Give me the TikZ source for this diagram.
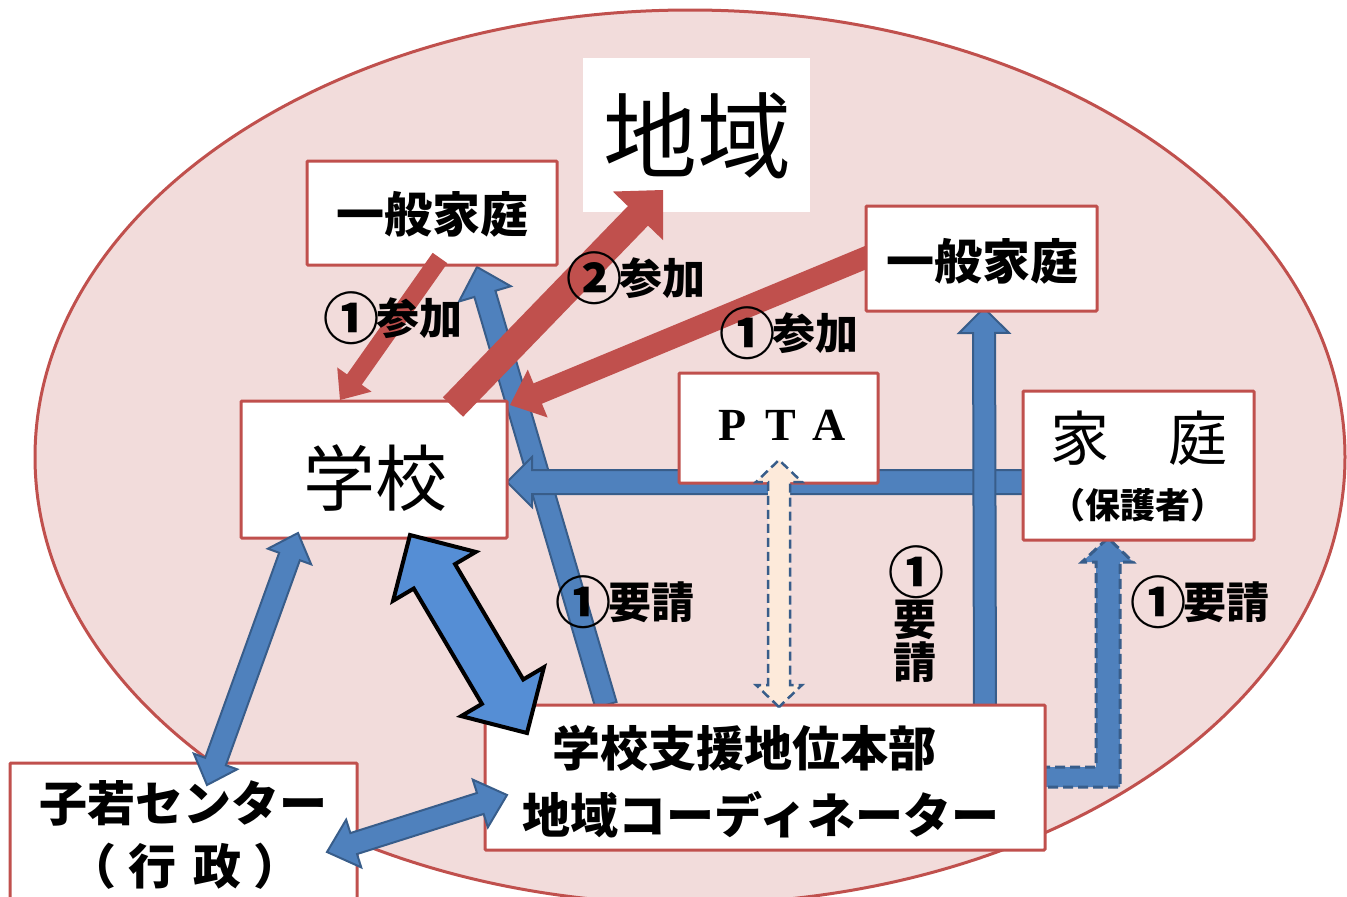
\documentclass[tikz,border=0pt]{standalone}
\usepackage{fontspec}
\newfontfamily\jp{Noto Sans CJK JP}
\newfontfamily\ptafont{Liberation Serif}
\usetikzlibrary{calc}
\definecolor{ellfill}{HTML}{F2DCDB}
\definecolor{redc}{HTML}{C0504D}
\definecolor{bluef}{HTML}{4F81BD}
\definecolor{blued}{HTML}{385D8A}
\definecolor{bigblue}{HTML}{558ED5}
\definecolor{peach}{HTML}{FDEADA}
\newcommand{\maru}[1]{\raisebox{-5pt}{\fontsize{56}{56}\selectfont #1}\kern-3pt}
\newcommand{\sarrow}[6]{%
  \path ($(#3)!#6!(#2)$) coordinate (hb);
  \filldraw[#1] ($(#2)!#4!90:(#3)$) -- ($(hb)!#4!90:(#3)$) -- ($(hb)!#5!90:(#3)$) -- (#3) -- ($(hb)!#5!-90:(#3)$) -- ($(hb)!#4!-90:(#3)$) -- ($(#2)!#4!-90:(#3)$) -- cycle;}
\newcommand{\darrow}[6]{%
  \path ($(#3)!#6!(#2)$) coordinate (hb) ($(#2)!#6!(#3)$) coordinate (ha);
  \filldraw[#1] (#2) -- ($(ha)!#5!90:(#3)$) -- ($(ha)!#4!90:(#3)$) -- ($(hb)!#4!90:(#3)$) -- ($(hb)!#5!90:(#3)$) -- (#3) -- ($(hb)!#5!-90:(#3)$) -- ($(hb)!#4!-90:(#3)$) -- ($(ha)!#4!-90:(#3)$) -- ($(ha)!#5!-90:(#3)$) -- cycle;}
\begin{document}
\begin{tikzpicture}[x=1pt,y=-1pt,
  box/.style={draw=redc, line width=3pt, fill=white, inner sep=0pt, rounded corners=1pt},
  bst/.style={fill=bluef, draw=blued, line width=2pt, line join=miter},
  rst/.style={fill=redc, draw=none},
  bigst/.style={fill=bigblue, draw=black, line width=4pt, line join=miter},
  dashst/.style={fill=peach, draw=blued, line width=2.5pt, dash pattern=on 9pt off 5pt},
  ldashst/.style={fill=bluef, draw=blued, line width=3pt, dash pattern=on 10pt off 5pt},
  txt/.style={inner sep=0pt, font=\jp\bfseries\fontsize{48}{52}\selectfont},
  lbl/.style={inner sep=0pt, font=\jp\bfseries\fontsize{43}{46}\selectfont}]
\useasboundingbox (0,0) rectangle (1347,897);
\fill[white] (0,0) rectangle (1347,897);
% background ellipse
\draw[fill=ellfill, draw=redc, line width=3pt] (690,457) ellipse [x radius=655pt, y radius=447pt];
% 地域 box
\node[fill=white, inner sep=0pt, minimum width=227pt, minimum height=154pt] (chiiki) at (696.5,135) {};
\node[inner sep=0pt, font=\jp\fontsize{94}{98}\selectfont] (chiikiT) at (697,136) {地域};
% arrow coordinates
\coordinate (bdA) at (606,705); \coordinate (bdB) at (477,267);
\coordinate (hzA) at (507,482); \coordinate (hzB) at (1048,482);
\coordinate (vtA) at (985,712); \coordinate (vtB) at (984,308);
\coordinate (rrA) at (872,255); \coordinate (rrB) at (510,405);
\coordinate (rlA) at (440,258); \coordinate (rlB) at (340,400);
\coordinate (r2A) at (453,407); \coordinate (r2B) at (663,190);
\coordinate (ptA) at (779,707); \coordinate (ptB) at (779,460);
\coordinate (bgA) at (410,535); \coordinate (bgB) at (527,733);
\coordinate (kgA) at (207,785); \coordinate (kgB) at (298,533);
\coordinate (kcA) at (327,852); \coordinate (kcB) at (507,795);
% blue arrows below boxes
\sarrow{bst}{bdA}{bdB}{11pt}{27pt}{28pt}
\darrow{bst}{hzA}{hzB}{12pt}{25pt}{25pt}
\sarrow{bst}{vtA}{vtB}{11pt}{25pt}{25pt}
\draw[ldashst] (1040,767) -- (1096,767) -- (1096,562) -- (1082,562) -- (1108,538) -- (1133,562) -- (1120,562) -- (1120,787) -- (1040,787) -- cycle;
% red arrow from right 一般家庭
\sarrow{rst}{rrA}{rrB}{11pt}{26pt}{30pt}
% boxes
\node[box, minimum width=250pt, minimum height=104pt] (ippanL) at (432,213) {};
\node[box, minimum width=231pt, minimum height=105pt] (ippanR) at (981.5,258.5) {};
\node[box, minimum width=266pt, minimum height=137pt] (gakko) at (374,469.5) {};
\node[box, minimum width=199pt, minimum height=110pt] (pta) at (778.5,428) {};
\node[box, minimum width=231pt, minimum height=149pt] (katei) at (1138.5,465.5) {};
\node[box, minimum width=560pt, minimum height=145pt] (coord) at (765,777.5) {};
\node[box, minimum width=347pt, minimum height=142pt] (kowaka) at (183.5,834) {};
% box texts
\node[txt] (ippanLT) at (432,214) {一般家庭};
\node[txt] (ippanRT) at (982,261) {一般家庭};
\node[inner sep=0pt, font=\jp\fontsize{72}{76}\selectfont] (gakkoT) at (375,478) {学校};
\node[inner sep=0pt, font=\ptafont\bfseries\fontsize{46}{50}\selectfont] (ptaT) at (781,425) {\makebox[48pt]{P}\makebox[48pt]{T}\makebox[48pt]{A}};
\node[inner sep=0pt, font=\jp\fontsize{59}{62}\selectfont] (kateiT) at (1139,438) {家　庭};
\node[inner sep=0pt, font=\jp\bfseries\fontsize{35}{38}\selectfont] (hogoT) at (1138,505) {（保護者）};
\node[txt] (coordT1) at (744,748) {学校支援地位本部};
\node[txt] (coordT2) at (761,815) {地域コーディネーター};
\node[txt] (kowakaT1) at (183,803) {子若センター};
\node[txt] (kowakaT2) at (185,866) {（\kern12pt 行\kern17pt 政\kern12pt ）};
% arrows above boxes
\sarrow{rst}{rlA}{rlB}{9pt}{21pt}{25pt}
\sarrow{rst}{r2A}{r2B}{14pt}{35pt}{36pt}
\darrow{dashst}{ptA}{ptB}{11pt}{23pt}{22pt}
\darrow{bigst}{bgA}{bgB}{24pt}{48pt}{48pt}
\darrow{bst}{kgA}{kgB}{11pt}{23pt}{25pt}
\darrow{bst}{kcA}{kcB}{11pt}{25pt}{28pt}
% labels
\node[lbl] (l1) at (393,318) {\maru{①}参加};
\node[lbl] (l2) at (636,278) {\maru{②}参加};
\node[lbl] (l3) at (789,333) {\maru{①}参加};
\node[lbl] (l4) at (625,602) {\maru{①}要請};
\node[lbl] (l5) at (1200,602) {\maru{①}要請};
\node[lbl, align=center, font=\jp\bfseries\fontsize{43}{43}\selectfont] (l6) at (915,614) {\maru{①}\\要\\請};
\end{tikzpicture}
\end{document}
